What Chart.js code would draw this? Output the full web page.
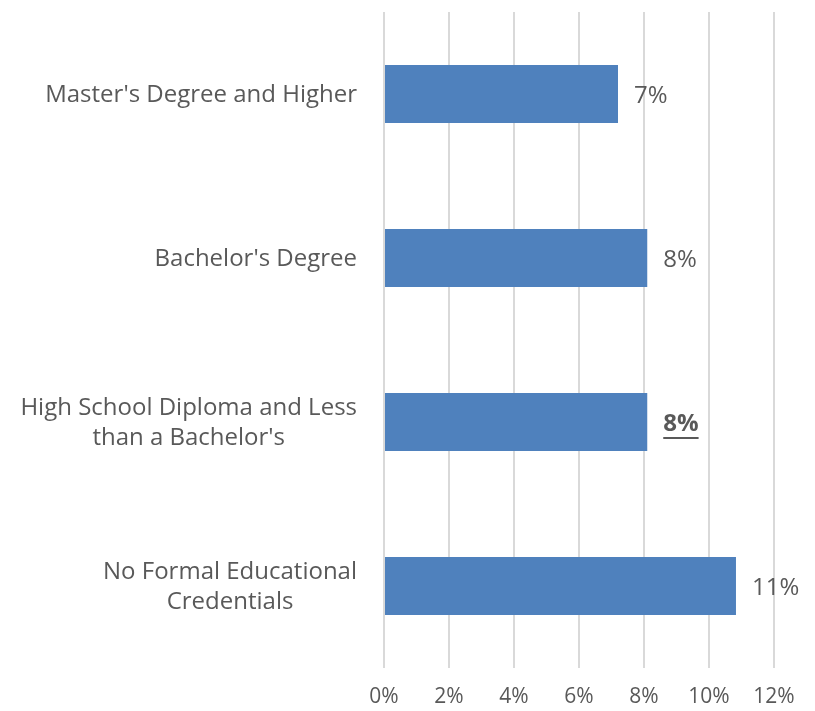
<!DOCTYPE html>
<html><head><meta charset="utf-8">
<script src="https://cdn.jsdelivr.net/npm/chart.js@4"></script>
<style>html,body{margin:0;padding:0;background:#fff}#wrap{width:815px;height:711px}</style>
</head><body><div id="wrap"><canvas id="c"></canvas></div>
<script>
const categories = [["Master's Degree and Higher"], ["Bachelor's Degree"], ["High School Diploma and Less", "than a Bachelor's"], ["No Formal Educational", "Credentials"]];
const values = [7.2, 8.1, 8.1, 10.83];
const valueLabels = ["7%", "8%", "8%", "11%"];
const emphasized = [false, false, true, false];
const xTicks = [0, 2, 4, 6, 8, 10, 12];

const FONT = "'Open Sans'";
const TEXT = "#595959";

const labelsPlugin = {
  id: 'customLabels',
  afterDatasetsDraw(chart) {
    const ctx = chart.ctx;
    const meta = chart.getDatasetMeta(0);
    const yScale = chart.scales.y;
    ctx.save();
    ctx.fillStyle = TEXT;
    ctx.strokeStyle = TEXT;
    ctx.font = "24px " + FONT;
    ctx.textBaseline = "middle";
    ctx.textAlign = "center";
    const lh = 30;
    categories.forEach((lines, i) => {
      const yc = yScale.getPixelForTick(i);
      const w = Math.max(...lines.map(l => ctx.measureText(l).width));
      const xc = chart.chartArea.left - 27 - w / 2;
      lines.forEach((l, j) => {
        ctx.fillText(l, xc, yc + 1 + (j - (lines.length - 1) / 2) * lh);
      });
    });
    ctx.textAlign = "left";
    meta.data.forEach((bar, i) => {
      ctx.font = (emphasized[i] ? "bold " : "") + "24px " + FONT;
      const x = bar.x + 16, y = bar.y + 2;
      ctx.fillText(valueLabels[i], x, y);
      if (emphasized[i]) {
        const w = ctx.measureText(valueLabels[i]).width;
        ctx.fillRect(x, y + 13, w, 2);
      }
    });
    ctx.restore();
  }
};

new Chart(document.getElementById('c'), {
  type: 'bar',
  data: {
    labels: categories,
    datasets: [{
      data: values,
      backgroundColor: '#4F81BD',
      borderWidth: 0,
      categoryPercentage: 1,
      barPercentage: 0.354
    }]
  },
  options: {
    indexAxis: 'y',
    responsive: true,
    maintainAspectRatio: false,
    animation: false,
    layout: { padding: { top: 12, right: 41, bottom: 0, left: 0 } },
    plugins: { legend: { display: false }, tooltip: { enabled: false } },
    scales: {
      x: {
        min: 0, max: 12,
        afterBuildTicks(scale) { scale.ticks = xTicks.map(v => ({ value: v })); },
        afterFit(scale) { scale.height = 43; },
        grid: { color: '#D9D9D9', lineWidth: 2, drawTicks: false },
        border: { display: false },
        ticks: {
          color: TEXT, font: { family: "'Open Sans'", size: 21 }, padding: 16,
          callback: v => v + '%'
        }
      },
      y: {
        afterFit(scale) { scale.width = 384; },
        grid: { display: false, drawTicks: false },
        border: { display: false },
        ticks: { display: false }
      }
    }
  },
  plugins: [labelsPlugin]
});
</script></body></html>
